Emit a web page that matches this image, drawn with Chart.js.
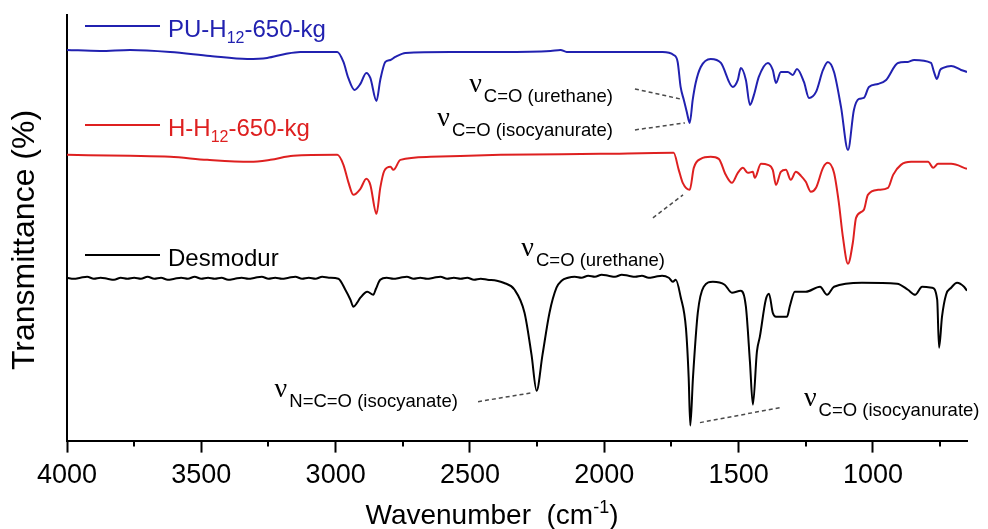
<!DOCTYPE html>
<html>
<head>
<meta charset="utf-8">
<script src="https://cdn.jsdelivr.net/npm/chart.js@4.4.1/dist/chart.umd.min.js"></script>
<style>
  html, body { margin: 0; padding: 0; background: #fff; }
  canvas { display: block; }
</style>
</head>
<body>
<canvas id="ftir" width="988" height="529"></canvas>
<script>
// FTIR spectra, offset vertically (transmittance, arbitrary units)
const puWn = [4000, 3877, 3765, 3616, 3467, 3329, 3255, 3188, 3132, 2994, 2971, 2953, 2930, 2908, 2886, 2871, 2848, 2834, 2815, 2796,
    2778, 2740, 2573, 2386, 2200, 2163, 2140, 1976, 1783, 1742, 1727, 1716, 1704, 1693, 1682, 1671, 1660, 1641, 1604, 1566,
    1522, 1503, 1492, 1473, 1458, 1443, 1425, 1391, 1373, 1361, 1343, 1317, 1298, 1283, 1257, 1238, 1212, 1186, 1168, 1145,
    1119, 1093, 1071, 1052, 1034, 1015, 981, 951, 907, 870, 847, 784, 773, 762, 750, 739, 709, 672, 650];
const puT = [391, 390, 391, 389, 385, 382, 383, 387, 389, 389, 379, 363, 351, 357, 368, 363, 340, 361, 379, 381,
    384, 388, 389, 389, 390, 391, 389, 389, 389, 386, 379, 354, 341, 329, 318, 341, 358, 374, 382, 378,
    354, 361, 373, 361, 336, 346, 364, 378, 371, 358, 369, 369, 366, 372, 359, 343, 349, 371, 379, 369,
    334, 291, 331, 342, 343, 354, 357, 361, 378, 379, 381, 378, 369, 362, 371, 373, 375, 371, 369];

const hWn = [4000, 3765, 3616, 3478, 3318, 3243, 3158, 2994, 2971, 2953, 2934, 2908, 2886, 2871, 2848, 2834, 2819, 2796, 2785, 2759,
    2647, 2386, 2014, 1742, 1723, 1708, 1682, 1667, 1641, 1604, 1574, 1548, 1525, 1503, 1484, 1466, 1447, 1440, 1417, 1391,
    1373, 1361, 1343, 1324, 1306, 1287, 1268, 1250, 1231, 1212, 1186, 1168, 1145, 1127, 1112, 1093, 1075, 1063, 1034, 1019,
    981, 944, 925, 896, 858, 795, 776, 758, 709, 650];
const hT = [286, 285, 284, 281, 279, 281, 285, 286, 276, 259, 246, 252, 262, 256, 227, 253, 270, 274, 271, 281,
    284, 286, 287, 288, 271, 258, 251, 273, 282, 284, 282, 266, 258, 268, 273, 268, 269, 263, 277, 276,
    271, 256, 269, 271, 261, 269, 265, 259, 249, 253, 273, 278, 268, 238, 204, 177, 198, 223, 231, 246,
    251, 253, 266, 276, 279, 279, 273, 277, 277, 272];

const desWn = [4000, 3975, 3950, 3925, 3900, 3875, 3850, 3825, 3800, 3775, 3750, 3725, 3700, 3675, 3650, 3625, 3600, 3575, 3550, 3525,
    3500, 3475, 3450, 3425, 3400, 3375, 3350, 3325, 3300, 3275, 3250, 3225, 3200, 3175, 3150, 3125, 3100, 3075, 3050, 3025,
    2990, 2964, 2945, 2934, 2920, 2908, 2882, 2860, 2850, 2834, 2810, 2785, 2760, 2735, 2710, 2685, 2660, 2635, 2610, 2585,
    2560, 2535, 2510, 2485, 2460, 2435, 2400, 2375, 2334, 2297, 2271, 2252, 2230, 2204, 2178, 2159, 2135, 2110, 2085, 2060,
    2035, 2010, 1985, 1960, 1935, 1910, 1885, 1860, 1835, 1810, 1785, 1760, 1745, 1734, 1716, 1696, 1686, 1680, 1670, 1652,
    1630, 1596, 1552, 1525, 1492, 1473, 1458, 1447, 1432, 1421, 1399, 1387, 1373, 1361, 1320, 1309, 1291, 1250, 1197, 1171,
    1145, 1041, 910, 870, 843, 817, 780, 761, 754, 743, 728, 709, 687, 661, 650];
const desT = [163, 162, 163, 164, 162, 163, 162, 161, 163, 162, 163, 162, 164, 162, 163, 161, 162, 163, 162, 164,
    162, 163, 162, 163, 161, 162, 163, 162, 163, 164, 162, 163, 162, 163, 164, 162, 163, 162, 164, 163,
    162, 151, 141, 134, 138, 143, 149, 146, 152, 161, 163, 162, 163, 164, 162, 163, 162, 163, 164, 162,
    163, 162, 163, 161, 162, 161, 160, 158, 151, 128, 86, 50, 86, 128, 153, 160, 163, 164, 163, 165,
    164, 166, 165, 164, 166, 165, 164, 165, 163, 164, 165, 163, 159, 161, 144, 112, 63, 15, 63, 128,
    154, 159, 156, 148, 150, 134, 79, 36, 89, 104, 141, 147, 128, 124, 124, 135, 149, 149, 154, 146,
    154, 158, 157, 151, 146, 154, 153, 141, 93, 124, 146, 153, 158, 154, 150];

const majorTicks = [4000, 3500, 3000, 2500, 2000, 1500, 1000];
const minorTicks = [3750, 3250, 2750, 2250, 1750, 1250, 750];

const BLUE = '#2121b0';
const RED = '#de2020';
const SANS = '"Liberation Sans", Arial, sans-serif';
const SERIF = '"Liberation Serif", "Times New Roman", serif';

// band assignments: text anchor [wn, value], leader line from -> to
const bandNotes = [
    { sub: 'C=O (urethane)', at: [1968, 339], align: 'right', from: [1886, 352], to: [1718, 342] },
    { sub: 'C=O (isocyanurate)', at: [1968, 305], align: 'right', from: [1886, 311], to: [1700, 318] },
    { sub: 'C=O (urethane)', at: [1774, 175], align: 'right', from: [1819, 223], to: [1707, 246] },
    { sub: 'N=C=O (isocyanate)', at: [2545, 34], align: 'right', from: [2470, 39], to: [2266, 48] },
    { sub: 'C=O (isocyanurate)', at: [1257, 25], align: 'left', from: [1644, 18], to: [1346, 33] }
];

const legendRows = [
    { parts: [['PU-H', false], ['12', true], ['-650-kg', false]], color: BLUE, dy: 11 },
    { parts: [['H-H', false], ['12', true], ['-650-kg', false]], color: RED, dy: 110 },
    { parts: [['Desmodur', false]], color: '#000', dy: 240 }
];

function toPoints(xs, ys) {
    return xs.map((w, i) => ({ x: w, y: ys[i] }));
}

function drawParts(ctx, parts, x, y, size, subSize) {
    parts.forEach(([t, isSub]) => {
        ctx.font = (isSub ? subSize : size) + 'px ' + SANS;
        ctx.fillText(t, x, isSub ? y + 6 : y);
        x += ctx.measureText(t).width;
    });
}

const extras = {
    id: 'extras',
    afterDraw(chart) {
        const { ctx, chartArea, scales: { x, y } } = chart;
        ctx.save();

        // minor ticks
        ctx.strokeStyle = '#000';
        ctx.lineWidth = 2;
        minorTicks.forEach(v => {
            const px = Math.round(x.getPixelForValue(v));
            ctx.beginPath();
            ctx.moveTo(px, chartArea.bottom);
            ctx.lineTo(px, chartArea.bottom + 6);
            ctx.stroke();
        });

        // leaders + labels
        ctx.textBaseline = 'alphabetic';
        const subFont = '18.5px ' + SANS;
        const nuFont = '28px ' + SERIF;
        bandNotes.forEach(n => {
            ctx.save();
            ctx.setLineDash([4, 3]);
            ctx.strokeStyle = '#4a4a4a';
            ctx.lineWidth = 1.5;
            ctx.beginPath();
            ctx.moveTo(x.getPixelForValue(n.from[0]), y.getPixelForValue(n.from[1]));
            ctx.lineTo(x.getPixelForValue(n.to[0]), y.getPixelForValue(n.to[1]));
            ctx.stroke();
            ctx.restore();

            ctx.fillStyle = '#000';
            ctx.font = nuFont;
            const wNu = ctx.measureText('ν').width;
            ctx.font = subFont;
            const wSub = ctx.measureText(n.sub).width;
            const bx = x.getPixelForValue(n.at[0]);
            const by = y.getPixelForValue(n.at[1]);
            const left = n.align === 'right' ? bx - wSub - wNu - 2 : bx;
            ctx.font = nuFont;
            ctx.fillText('ν', left, by - 10);
            ctx.font = subFont;
            ctx.fillText(n.sub, left + wNu + 2, by);
        });

        // legend
        legendRows.forEach(r => {
            const ly = chartArea.top + r.dy;
            ctx.strokeStyle = r.color;
            ctx.lineWidth = 2;
            ctx.beginPath();
            ctx.moveTo(chartArea.left + 18, ly);
            ctx.lineTo(chartArea.left + 93, ly);
            ctx.stroke();
            ctx.fillStyle = r.color;
            drawParts(ctx, r.parts, chartArea.left + 101, ly + 11, 24, 16);
        });

        // y axis title
        ctx.fillStyle = '#000';
        ctx.save();
        ctx.translate(chartArea.left - 42, chartArea.top + 225);
        ctx.rotate(-Math.PI / 2);
        ctx.font = '32px ' + SANS;
        ctx.textAlign = 'center';
        ctx.textBaseline = 'middle';
        ctx.fillText('Transmittance (%)', 0, 0);
        ctx.restore();

        // x axis title with superscript
        ctx.font = '28px ' + SANS;
        const t1 = 'Wavenumber  (cm';
        ctx.font = '18px ' + SANS;
        const wSup = ctx.measureText('-1').width;
        ctx.font = '28px ' + SANS;
        const w1 = ctx.measureText(t1).width;
        const w2 = ctx.measureText(')').width;
        const cx = chartArea.left + 425;
        let tx = cx - (w1 + wSup + w2) / 2;
        const ty = chartArea.bottom + 83;
        ctx.fillText(t1, tx, ty);
        tx += w1;
        ctx.font = '18px ' + SANS;
        ctx.fillText('-1', tx, ty - 11);
        tx += wSup;
        ctx.font = '28px ' + SANS;
        ctx.fillText(')', tx, ty);

        ctx.restore();
    }
};

new Chart(document.getElementById('ftir'), {
    type: 'line',
    data: {
        datasets: [
            { label: 'PU-H12-650-kg', data: toPoints(puWn, puT), borderColor: BLUE },
            { label: 'H-H12-650-kg', data: toPoints(hWn, hT), borderColor: RED },
            { label: 'Desmodur', data: toPoints(desWn, desT), borderColor: '#000' }
        ]
    },
    options: {
        responsive: false,
        animation: false,
        devicePixelRatio: 1,
        layout: { padding: { left: 67, top: 15, right: 21, bottom: 30 } },
        plugins: { legend: { display: false }, tooltip: { enabled: false } },
        elements: {
            point: { radius: 0 },
            line: { borderWidth: 2, cubicInterpolationMode: 'monotone', fill: false }
        },
        scales: {
            x: {
                type: 'linear',
                reverse: true,
                min: 650,
                max: 4000,
                border: { display: true, color: '#000', width: 2 },
                grid: { display: true, drawOnChartArea: false, drawTicks: true, tickLength: 12, tickColor: '#000', tickWidth: 2 },
                afterBuildTicks: axis => { axis.ticks = majorTicks.map(v => ({ value: v })); },
                ticks: {
                    padding: 7,
                    color: '#000',
                    maxRotation: 0,
                    autoSkip: false,
                    font: { size: 27, family: SANS },
                    callback: v => String(v)
                }
            },
            y: {
                min: 0,
                max: 426,
                border: { display: true, color: '#000', width: 2 },
                grid: { display: false, drawTicks: false },
                ticks: { display: false }
            }
        }
    },
    plugins: [extras]
});
</script>
</body>
</html>
